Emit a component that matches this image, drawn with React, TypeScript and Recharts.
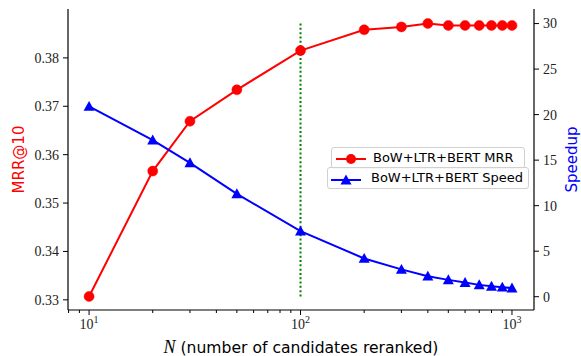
import { LineChart, Line, XAxis, YAxis, ReferenceLine } from 'recharts';

const candidates = [10, 20, 30, 50, 100, 200, 300, 400, 500, 600, 700, 800, 900, 1000];
const mrrValues = [0.3307, 0.3566, 0.3669, 0.3734, 0.3815, 0.3858, 0.3864, 0.3871, 0.3867, 0.3867, 0.3867, 0.3867, 0.3867, 0.3867];
const speedValues = [20.9, 17.2, 14.7, 11.3, 7.2, 4.2, 3.0, 2.25, 1.85, 1.55, 1.3, 1.15, 1.05, 0.95];

const xTicks = [8, 9, 10, 20, 30, 40, 50, 60, 70, 80, 90, 100, 200, 300, 400, 500, 600, 700, 800, 900, 1000];
const mrrTicks = [0.33, 0.34, 0.35, 0.36, 0.37, 0.38];
const speedTicks = [0, 5, 10, 15, 20, 25, 30];

const data = candidates.map((n, i) => ({ n, mrr: mrrValues[i], speed: speedValues[i] }));
const mrrMin = Math.min(...mrrValues);
const mrrMax = Math.max(...mrrValues);

const serif = '"Liberation Serif", "DejaVu Serif", serif';
const sans = '"DejaVu Sans", sans-serif';

const XTick = (props: any) => {
  const { x, y, payload } = props;
  const e = Math.log10(payload.value);
  const major = Math.abs(e - Math.round(e)) < 1e-6;
  return (
    <g>
      <line x1={x} y1={y} x2={x} y2={y + (major ? 5 : 3)} stroke="#000" strokeWidth={1} />
      {major && (
        <text x={x} y={y + 19} textAnchor="middle" fontFamily={serif} fontSize={14} fill="#222">
          10<tspan dy={-6} fontSize={10}>{Math.round(e)}</tspan>
        </text>
      )}
    </g>
  );
};

const LeftTick = (props: any) => {
  const { x, y, payload } = props;
  return (
    <text x={x} y={y} dy="0.35em" textAnchor="end" fontFamily={serif} fontSize={14} fill="#222">
      {Number(payload.value).toFixed(2)}
    </text>
  );
};

const RightTick = (props: any) => {
  const { x, y, payload } = props;
  return (
    <text x={x} y={y} dy="0.35em" textAnchor="start" fontFamily={serif} fontSize={14} fill="#222">
      {payload.value}
    </text>
  );
};

const Triangle = (props: any) => {
  const { cx, cy, index } = props;
  if (cx == null || cy == null) return <g key={`t${index}`} />;
  const r = 5.5;
  return <polygon key={`t${index}`} points={`${cx},${cy - r} ${cx - r},${cy + r * 0.8} ${cx + r},${cy + r * 0.8}`} fill="#0000ff" />;
};

const XLabel = () => (
  <text x={301} y={353} textAnchor="middle" fontFamily={sans} fontSize={15.6} fill="#000">
    <tspan fontFamily={serif} fontStyle="italic" fontSize={18}>N</tspan>
    <tspan> (number of candidates reranked)</tspan>
  </text>
);

export default function App() {
  return (
    <div style={{ position: 'absolute', left: 0, top: 0, width: 581, height: 356, background: '#fff' }}>
      <LineChart width={581} height={356} data={data} margin={{ top: 9, right: 0, bottom: 0, left: 0 }}>
        <XAxis
          dataKey="n"
          type="number"
          scale="log"
          domain={[7.95, 1271]}
          allowDataOverflow
          ticks={xTicks}
          interval={0}
          height={46}
          tickLine={false}
          tickSize={0}
          tickMargin={0}
          tick={<XTick />}
          axisLine={{ stroke: '#000', strokeWidth: 1.2 }}
          label={<XLabel />}
        />
        <XAxis
          xAxisId="top"
          orientation="top"
          type="number"
          scale="log"
          domain={[7.95, 1271]}
          allowDataOverflow
          height={0}
          tick={false}
          tickLine={false}
          axisLine={{ stroke: '#000', strokeWidth: 1.2 }}
        />
        <YAxis
          yAxisId="mrr"
          type="number"
          domain={[0.3279, 0.3901]}
          allowDataOverflow
          ticks={mrrTicks}
          interval={0}
          width={68}
          tickSize={5}
          tickMargin={4}
          tick={<LeftTick />}
          tickLine={{ stroke: '#000' }}
          axisLine={{ stroke: '#000', strokeWidth: 1.2 }}
          label={{ value: 'MRR@10', angle: -90, position: 'insideLeft', offset: 0, dx: 19, style: { fontFamily: sans, fontSize: 15, fill: '#ff0000', textAnchor: 'middle' } }}
        />
        <YAxis
          yAxisId="speed"
          orientation="right"
          type="number"
          domain={[-1.46, 31.6]}
          allowDataOverflow
          ticks={speedTicks}
          interval={0}
          width={47}
          tickSize={5}
          tickMargin={4}
          tick={<RightTick />}
          tickLine={{ stroke: '#000' }}
          axisLine={{ stroke: '#000', strokeWidth: 1.2 }}
          label={{ value: 'Speedup', angle: -90, position: 'insideRight', offset: 0, dx: -9, style: { fontFamily: sans, fontSize: 15, fill: '#0000ff', textAnchor: 'middle' } }}
        />
        <ReferenceLine
          yAxisId="mrr"
          segment={[{ x: 100, y: mrrMin }, { x: 100, y: mrrMax }]}
          stroke="#008000"
          strokeWidth={2}
          strokeDasharray="2 2.3"
          ifOverflow="visible"
        />
        <Line
          yAxisId="mrr"
          dataKey="mrr"
          stroke="#ff0000"
          strokeWidth={2}
          dot={{ r: 5, fill: '#ff0000', stroke: '#ff0000', strokeWidth: 0.5 }}
          isAnimationActive={false}
          type="linear"
        />
        <Line
          yAxisId="speed"
          dataKey="speed"
          stroke="#0000ff"
          strokeWidth={2}
          dot={<Triangle />}
          isAnimationActive={false}
          type="linear"
        />
      </LineChart>
      <div style={{ position: 'absolute', left: 331, top: 147, width: 194, height: 22, border: '1px solid #d0d0d0', borderRadius: 3, background: 'rgba(255,255,255,0.8)', boxSizing: 'border-box' }}>
        <svg width={40} height={20} style={{ position: 'absolute', left: 3, top: 0 }}>
          <line x1={1} y1={11} x2={31} y2={11} stroke="#ff0000" strokeWidth={2} />
          <circle cx={16} cy={11} r={5} fill="#ff0000" />
        </svg>
        <span style={{ position: 'absolute', left: 41, top: 2, fontFamily: sans, fontSize: 13, color: '#000', whiteSpace: 'nowrap' }}>BoW+LTR+BERT MRR</span>
      </div>
      <div style={{ position: 'absolute', left: 327, top: 167, width: 202, height: 22, border: '1px solid #d0d0d0', borderRadius: 3, background: 'rgba(255,255,255,0.8)', boxSizing: 'border-box' }}>
        <svg width={40} height={20} style={{ position: 'absolute', left: 3, top: 0 }}>
          <line x1={0} y1={12} x2={30} y2={12} stroke="#0000ff" strokeWidth={2} />
          <polygon points="15,6.5 9.5,16.4 20.5,16.4" fill="#0000ff" />
        </svg>
        <span style={{ position: 'absolute', left: 43, top: 2, fontFamily: sans, fontSize: 13, color: '#000', whiteSpace: 'nowrap' }}>BoW+LTR+BERT Speed</span>
      </div>
    </div>
  );
}
